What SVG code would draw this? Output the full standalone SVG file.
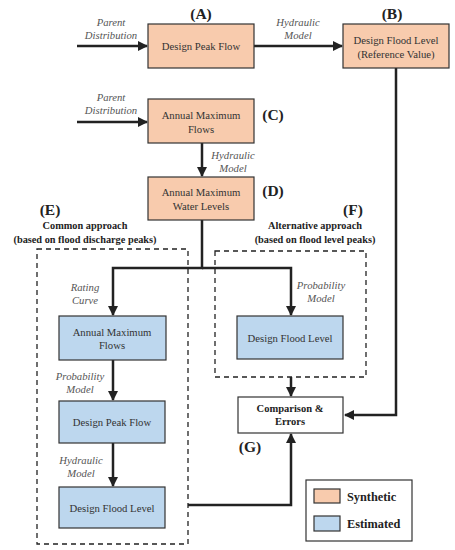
<svg xmlns="http://www.w3.org/2000/svg" width="455" height="550" viewBox="0 0 455 550">
<style>
text{font-family:'Liberation Serif','Times New Roman',serif}
.syn{fill:#F8CBAD;stroke:#333;stroke-width:1.2}
.est{fill:#BDD7EE;stroke:#333;stroke-width:1.2}
.wht{fill:#fff;stroke:#333;stroke-width:1.2}
.t{font-size:10.7px;fill:#333;text-anchor:middle}
.lab{font-size:10.7px;font-style:italic;fill:#555;text-anchor:middle}
.tag{font-size:15.5px;font-weight:bold;fill:#222;text-anchor:middle}
.hd{font-size:10.3px;font-weight:bold;fill:#222;text-anchor:middle}
.b{font-size:10.5px;font-weight:bold;fill:#222;text-anchor:middle}
.lg{font-size:12.3px;font-weight:bold;fill:#222}
.ln{fill:none;stroke:#222;stroke-width:2.5}
.dash{fill:none;stroke:#222;stroke-width:1.3;stroke-dasharray:5,4}
</style>
<defs>
<marker id="ah" viewBox="0 0 10 10" refX="9" refY="5" markerWidth="4" markerHeight="4" orient="auto" markerUnits="strokeWidth">
<path d="M0,0 L10,5 L0,10 z" fill="#222"/>
</marker>
</defs>
<rect width="455" height="550" fill="#fff"/>
<g id="groups">
<rect id="E" class="dash" x="37" y="249" width="151" height="295"/>
<rect id="F" class="dash" x="215" y="251" width="151" height="126"/>
<text class="tag" x="50" y="215">(E)</text>
<text class="hd" x="85" y="229">Common approach</text>
<text class="hd" x="85" y="243">(based on flood discharge peaks)</text>
<text class="tag" x="353" y="215">(F)</text>
<text class="hd" x="315" y="229">Alternative approach</text>
<text class="hd" x="315" y="243">(based on flood level peaks)</text>
</g>
<g id="connectors">
<line class="ln" x1="77" y1="46" x2="147" y2="46" marker-end="url(#ah)"/>
<line class="ln" x1="254" y1="46" x2="342" y2="46" marker-end="url(#ah)"/>
<polyline class="ln" points="396,68 396,415 345,415" marker-end="url(#ah)"/>
<line class="ln" x1="77" y1="122" x2="147" y2="122" marker-end="url(#ah)"/>
<line class="ln" x1="202" y1="143" x2="202" y2="176" marker-end="url(#ah)"/>
<polyline class="ln" points="202,220 202,268 113,268 113,315" marker-end="url(#ah)"/>
<polyline class="ln" points="202,268 291,268 291,315" marker-end="url(#ah)"/>
<line class="ln" x1="113" y1="360" x2="113" y2="400" marker-end="url(#ah)"/>
<line class="ln" x1="113" y1="443" x2="113" y2="486" marker-end="url(#ah)"/>
<line class="ln" x1="291" y1="377" x2="291" y2="396" marker-end="url(#ah)"/>
<polyline class="ln" points="188,505 291,505 291,434" marker-end="url(#ah)"/>
<text class="lab" x="111" y="26">Parent</text>
<text class="lab" x="111" y="39">Distribution</text>
<text class="lab" x="298" y="26">Hydraulic</text>
<text class="lab" x="298" y="39">Model</text>
<text class="lab" x="111" y="101">Parent</text>
<text class="lab" x="111" y="114">Distribution</text>
<text class="lab" x="233" y="159">Hydraulic</text>
<text class="lab" x="233" y="172">Model</text>
<text class="lab" x="85" y="291">Rating</text>
<text class="lab" x="85" y="304">Curve</text>
<text class="lab" x="80" y="380">Probability</text>
<text class="lab" x="80" y="393">Model</text>
<text class="lab" x="81" y="464">Hydraulic</text>
<text class="lab" x="81" y="477">Model</text>
<text class="lab" x="321" y="289">Probability</text>
<text class="lab" x="321" y="302">Model</text>
</g>
<g id="A">
<rect class="syn" x="148" y="24" width="106" height="44"/>
<text class="t" x="201" y="50">Design Peak Flow</text>
<text class="tag" x="201" y="19">(A)</text>
</g>
<g id="B">
<rect class="syn" x="343" y="24" width="106" height="44"/>
<text class="t" x="396" y="44">Design Flood Level</text>
<text class="t" x="396" y="58">(Reference Value)</text>
<text class="tag" x="392" y="19">(B)</text>
</g>
<g id="C">
<rect class="syn" x="148" y="99" width="106" height="44"/>
<text class="t" x="201" y="119">Annual Maximum</text>
<text class="t" x="201" y="133">Flows</text>
<text class="tag" x="273" y="120">(C)</text>
</g>
<g id="D">
<rect class="syn" x="148" y="177" width="106" height="43"/>
<text class="t" x="201" y="196">Annual Maximum</text>
<text class="t" x="201" y="210">Water Levels</text>
<text class="tag" x="273" y="196">(D)</text>
</g>
<g id="E1">
<rect class="est" x="59" y="316" width="107" height="44"/>
<text class="t" x="112" y="336">Annual Maximum</text>
<text class="t" x="112" y="349">Flows</text>
</g>
<g id="E2">
<rect class="est" x="59" y="401" width="106" height="42"/>
<text class="t" x="112" y="426">Design Peak Flow</text>
</g>
<g id="E3">
<rect class="est" x="59" y="487" width="106" height="41"/>
<text class="t" x="112" y="512">Design Flood Level</text>
</g>
<g id="F1">
<rect class="est" x="237" y="316" width="106" height="43"/>
<text class="t" x="290" y="342">Design Flood Level</text>
</g>
<g id="G">
<rect class="wht" x="238" y="397" width="105" height="36"/>
<text class="b" x="290" y="412">Comparison &amp;</text>
<text class="b" x="290" y="425">Errors</text>
<text class="tag" x="250" y="452">(G)</text>
</g>
<g id="legend">
<rect fill="#fff" stroke="#333" stroke-width="1.2" x="306" y="480" width="106" height="61"/>
<rect class="syn" x="314" y="489" width="26" height="14"/>
<text class="lg" x="347" y="501">Synthetic</text>
<rect class="est" x="314" y="516" width="26" height="15"/>
<text class="lg" x="347" y="528">Estimated</text>
</g>
</svg>
